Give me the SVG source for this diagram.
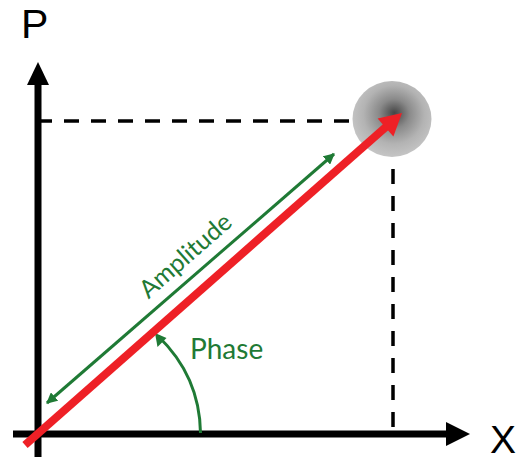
<svg xmlns="http://www.w3.org/2000/svg" width="517" height="463" viewBox="0 0 517 463">
<style>
  .axis { stroke:#000; stroke-width:7; fill:none; }
  .dash { stroke:#000; stroke-width:3.5; stroke-dasharray:15 12; fill:none; }
  .green { stroke:#1f7a35; stroke-width:3; fill:none; }
  .red { stroke:#ee2026; stroke-width:8; fill:none; }
  .lbl { font-family:"Liberation Sans", Arial, sans-serif; }
  .glbl { font-family:Lato, "Open Sans", "Liberation Sans", sans-serif; fill:#1f7a35; }
</style>
<defs>
  <radialGradient id="blob" cx="0.52" cy="0.45" r="0.55" fx="0.53" fy="0.42">
    <stop offset="0" stop-color="#454545"/>
    <stop offset="0.35" stop-color="#8a8a8a"/>
    <stop offset="0.7" stop-color="#b3b3b3"/>
    <stop offset="1" stop-color="#c5c5c5"/>
  </radialGradient>
  <marker id="gArrow" viewBox="0 0 10 10" refX="9" refY="5" markerWidth="11" markerHeight="11" markerUnits="userSpaceOnUse" orient="auto-start-reverse">
    <path d="M0,0 L10,5 L0,10 Z" fill="#1f7a35"/>
  </marker>
</defs>

<g id="axes">
  <line class="axis" x1="38" y1="457" x2="38" y2="82"/>
  <polygon points="38,62 27,85 49,85" fill="#000"/>
  <line class="axis" x1="13" y1="434" x2="449" y2="434"/>
  <polygon points="470,434 446,422 446,446" fill="#000"/>
  <text class="lbl" x="21" y="38" font-size="41">P</text>
  <text class="lbl" x="490" y="453" font-size="39">X</text>
</g>

<g id="guides">
  <line class="dash" x1="37" y1="121" x2="349" y2="121"/>
  <line class="dash" x1="393" y1="427" x2="393" y2="169"/>
</g>

<g id="point">
  <ellipse cx="392" cy="119" rx="39.5" ry="38" fill="url(#blob)"/>
</g>

<g id="connectors">
  <line class="green" x1="47" y1="403" x2="334" y2="154" marker-start="url(#gArrow)" marker-end="url(#gArrow)"/>
  <path class="green" d="M200.5,433 C200,395 185,362 158,336"/>
  <polygon points="155,333 157.5,347 166.5,338" fill="#1f7a35"/>
  <line class="red" x1="25" y1="445" x2="387" y2="126"/>
  <polygon points="402,113 393.4,136.5 377.6,118.5" fill="#ee2026"/>
</g>

<g id="labels">
  <text class="glbl" x="191" y="262" font-size="25" text-anchor="middle" transform="rotate(-41.4 191 262)">Amplitude</text>
  <text class="glbl" x="190" y="359" font-size="28">Phase</text>
</g>
</svg>
